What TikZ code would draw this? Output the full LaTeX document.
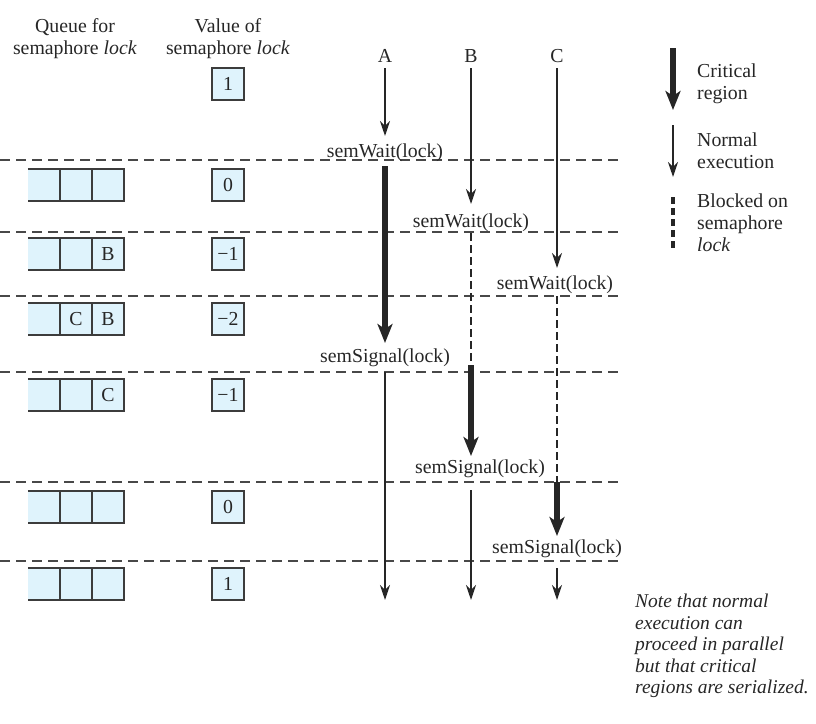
\documentclass[tikz,border=0pt]{standalone}
\usepackage{fontspec}
\setmainfont{Liberation Serif}
\usetikzlibrary{arrows.meta}
\definecolor{qfill}{HTML}{DFF3FC}
\definecolor{ink}{HTML}{262626}
\definecolor{dashc}{HTML}{484848}
\newcommand\qrow[5]{%
  \node[qcell] (#1a) at (44,#2) {#3};
  \node[qcell] (#1b) at (76,#2) {#4};
  \node[qcell] (#1c) at (108,#2) {#5};
  \draw[boxline] (#1a.north west) -- (#1c.north east) -- (#1c.south east) -- (#1a.south west);
  \draw[boxline] (#1a.north east) -- (#1a.south east) (#1b.north east) -- (#1b.south east);
}
\begin{document}
\begin{tikzpicture}[x=1pt,y=-1pt,
  font=\fontsize{19.8}{22}\selectfont, text=ink,
  every node/.style={inner sep=0pt},
  sep/.style={draw=dashc,line width=1.7pt,dash pattern=on 10pt off 6pt},
  normal/.style={draw=ink,line width=2.3pt,-{Stealth[length=15pt,width=10pt,inset=5pt]}},
  crit/.style={draw=ink,line width=6pt,-{Stealth[length=19pt,width=15pt,inset=5pt]}},
  blocked/.style={draw=ink,line width=2.8pt,dash pattern=on 8pt off 4pt},
  boxline/.style={draw=ink!90,line width=1.7pt},
  valbox/.style={boxline,fill=qfill,minimum width=32pt,minimum height=32pt},
  qcell/.style={fill=qfill,minimum width=32pt,minimum height=32pt},
  lbl/.style={anchor=base},
  legtext/.style={anchor=north west,align=left},
]
\useasboundingbox (0,0) rectangle (816,723);

% headers
\node[align=center,anchor=north] (hq) at (75,18) {Queue for\\semaphore \textit{lock}};
\node[align=center,anchor=north] (hv) at (228,18) {Value of\\semaphore \textit{lock}};

% separators
\foreach \yy in {160,232,296,372,482,561}
  \draw[sep] (0,\yy) -- (620,\yy);

% value boxes
\node[valbox] (v0) at (228,84) {1};
\node[valbox] (v1) at (228,185) {0};
\node[valbox] (v2) at (228,254) {−1};
\node[valbox] (v3) at (228,319) {−2};
\node[valbox] (v4) at (228,395) {−1};
\node[valbox] (v5) at (228,507) {0};
\node[valbox] (v6) at (228,584) {1};

% queues
\qrow{qa}{185}{}{}{}
\qrow{qb}{254}{}{}{B}
\qrow{qc}{319}{}{C}{B}
\qrow{qd}{395}{}{}{C}
\qrow{qe}{507}{}{}{}
\qrow{qf}{584}{}{}{}

% process labels
\node[anchor=base] (A) at (385,62) {A};
\node[anchor=base] (B) at (471,62) {B};
\node[anchor=base] (C) at (557,62) {C};

% event labels
\node[lbl] (wA) at (385,157) {semWait(lock)};
\node[lbl] (wB) at (471,227) {semWait(lock)};
\node[lbl] (wC) at (555,289) {semWait(lock)};
\node[lbl] (sA) at (385,362) {semSignal(lock)};
\node[lbl] (sB) at (480,473) {semSignal(lock)};
\node[lbl] (sC) at (557,553) {semSignal(lock)};

% coordinates along the timelines
\coordinate (a0) at (385,68);  \coordinate (a1) at (385,136);
\coordinate (a2) at (385,166); \coordinate (a3) at (385,343);
\coordinate (a4) at (385,372); \coordinate (a5) at (385,600);
\coordinate (b0) at (471,68);  \coordinate (b1) at (471,204);
\coordinate (b2) at (471,233); \coordinate (b3) at (471,365);
\coordinate (b4) at (471,456); \coordinate (b5) at (471,490);
\coordinate (b6) at (471,600);
\coordinate (c0) at (557,68);  \coordinate (c1) at (557,268);
\coordinate (c2) at (557,296); \coordinate (c3) at (557,482);
\coordinate (c4) at (557,536); \coordinate (c5) at (557,568);
\coordinate (c6) at (557,600);

% process A
\draw[normal] (a0) -- (a1);
\draw[crit] (a2) -- (a3);
\draw[normal] (a4) -- (a5);
% process B
\draw[normal] (b0) -- (b1);
\draw[blocked] (b2) -- (b3);
\draw[crit] (b3) -- (b4);
\draw[normal] (b5) -- (b6);
% process C
\draw[normal] (c0) -- (c1);
\draw[blocked] (c2) -- (c3);
\draw[crit] (c3) -- (c4);
\draw[normal] (c5) -- (c6);

% legend
\coordinate (l1s) at (673,48);  \coordinate (l1e) at (673,110);
\coordinate (l2s) at (673,125); \coordinate (l2e) at (673,177);
\coordinate (l3s) at (673,197); \coordinate (l3e) at (673,248);
\draw[crit] (l1s) -- (l1e);
\draw[normal] (l2s) -- (l2e);
\draw[draw=ink,line width=3.2pt,dash pattern=on 7pt off 4pt] (l3s) -- (l3e);
\node[legtext] (lt1) at (697,64) {Critical\\region};
\node[legtext] (lt2) at (697,133) {Normal\\execution};
\node[legtext] (lt3) at (697,194) {Blocked on\\semaphore\\\textit{lock}};

% note
\node[legtext,font=\fontsize{19.5}{21.5}\selectfont\itshape] (note) at (635,594)
  {Note that normal\\execution can\\proceed in parallel\\but that critical\\regions are serialized.};
\end{tikzpicture}
\end{document}
